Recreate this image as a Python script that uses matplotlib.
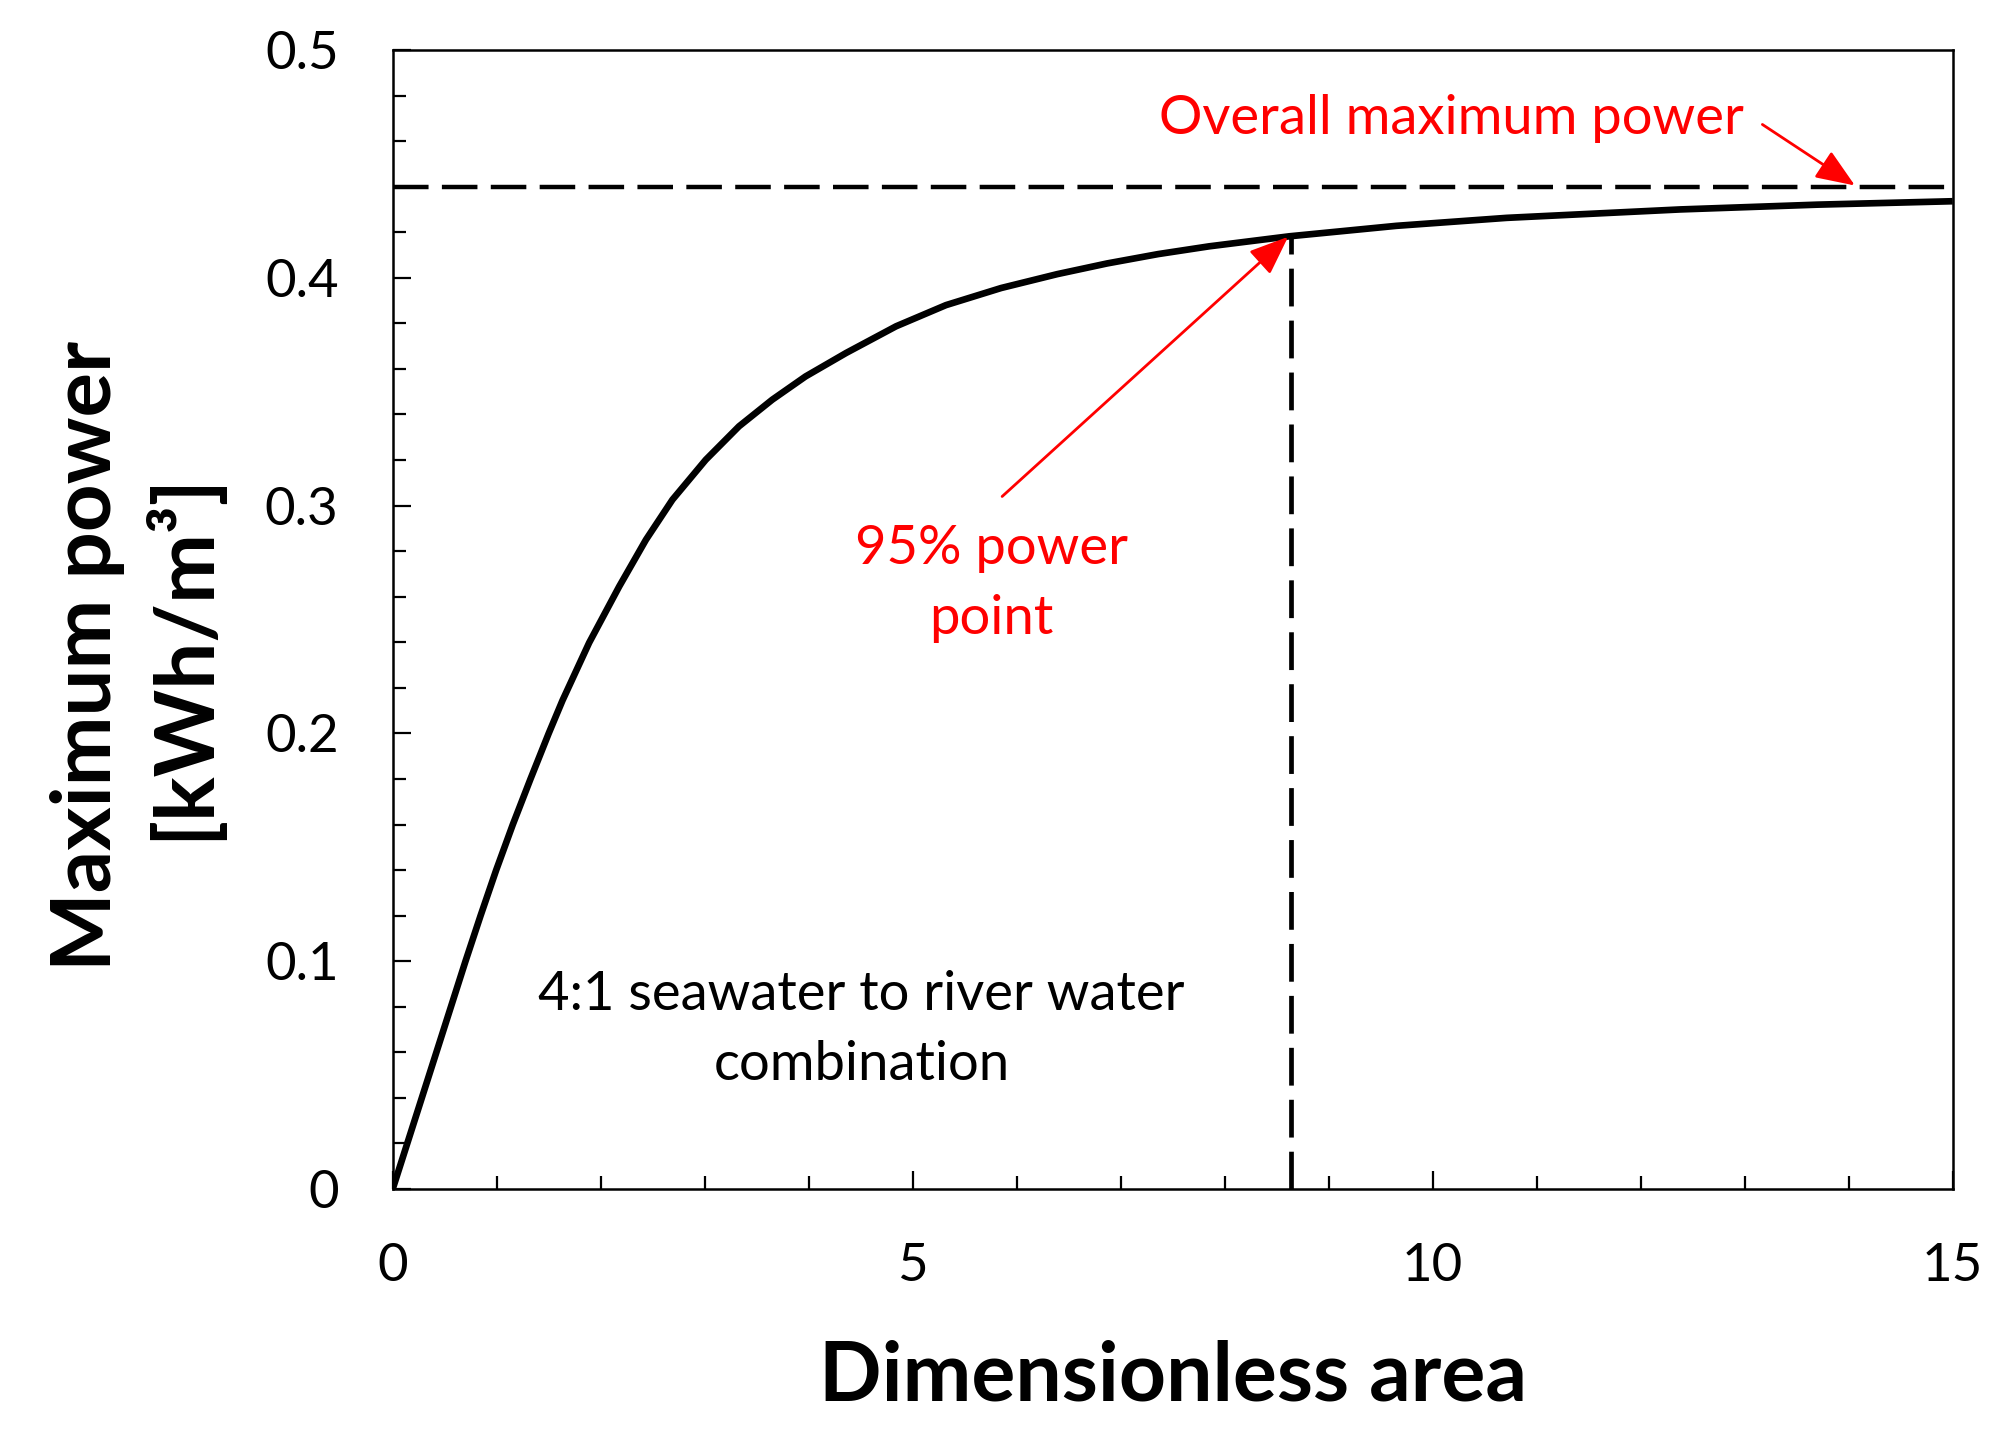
import numpy as np
import matplotlib
matplotlib.use("Agg")
import matplotlib.pyplot as plt
from matplotlib.ticker import MultipleLocator

plt.rcParams['font.family'] = ['Lato', 'DejaVu Sans']

# values
area = [0, 0.14, 0.28, 0.42, 0.56, 0.70, 0.845, 0.995, 1.155, 1.325, 1.50,
        1.633, 1.889, 2.178, 2.435, 2.69, 3.01, 3.33, 3.65, 3.97, 4.36,
        4.84, 5.32, 5.85, 6.39, 6.87, 7.36, 7.85, 8.62, 9.65, 10.71, 12.38,
        13.7, 15.0]
power = [0, 0.020, 0.040, 0.060, 0.080, 0.100, 0.120, 0.140, 0.160, 0.180,
         0.200, 0.2145, 0.2398, 0.2645, 0.285, 0.3026, 0.3201, 0.3348,
         0.3465, 0.3567, 0.367, 0.3787, 0.3880, 0.3955, 0.4016, 0.4063,
         0.4104, 0.4138, 0.4182, 0.4228, 0.4263, 0.4300, 0.4321, 0.4336]

overall_max = 0.44
point_95_area = 8.64
point_95_power = 0.4182

x_major = [0, 5, 10, 15]
x_tick_labels = ['0', '5', '10', '15']
y_major = [0, 0.1, 0.2, 0.3, 0.4, 0.5]
y_tick_labels = ['0', '0.1', '0.2', '0.3', '0.4', '0.5']

red = '#ff0000'

fig = plt.figure(figsize=(10, 7.255), dpi=200)
ax = fig.add_axes([0.19635, 0.18056, 0.78, 0.785])

dash = (0, (8.0, 3.0))
ax.plot([0, 15], [overall_max, overall_max], color='black', lw=1.6,
        linestyle=dash)
ax.plot([point_95_area, point_95_area], [0, point_95_power], color='black',
        lw=1.7, linestyle=dash)
ax.plot(area, power, color='black', lw=2.4, solid_capstyle='butt',
        solid_joinstyle='round', zorder=3)

ax.set_xlim(0, 15)
ax.set_ylim(0, 0.5)
ax.set_xticks(x_major, labels=x_tick_labels)
ax.set_yticks(y_major, labels=y_tick_labels)
ax.xaxis.set_minor_locator(MultipleLocator(1))
ax.yaxis.set_minor_locator(MultipleLocator(0.02))
ax.tick_params(which='both', direction='in', top=False, right=False,
               width=0.8, labelsize=19)
ax.tick_params(which='major', length=6.6)
ax.tick_params(which='minor', length=4.6)
ax.tick_params(axis='x', pad=19.5)
ax.tick_params(axis='y', pad=19.5)
for sp in ax.spines.values():
    sp.set_linewidth(0.9)

ax.set_xlabel('Dimensionless area', fontsize=29.6, fontweight='bold',
              va='baseline')
ax.xaxis.set_label_coords(0.5, -0.1853)
ax.set_ylabel('Maximum power\n[kWh/m³]', fontsize=30, fontweight='bold',
              va='center', linespacing=1.25)
ax.yaxis.set_label_coords(-0.1646, 0.468)

# annotations
head = '-|>,head_length=0.5,head_width=0.2'
ax.text(12.99, 0.4629, 'Overall maximum power', color=red, fontsize=19.6,
        ha='right', va='baseline')
ax.annotate('', xy=(14.06, 0.4405), xytext=(13.17, 0.4673),
            arrowprops=dict(arrowstyle=head, color=red, lw=1.0,
                            mutation_scale=24, shrinkA=0, shrinkB=0))

# va='baseline' on multi-line text anchors the last line
ax.text(5.755, 0.2437, '95% power\npoint', color=red, fontsize=19.6,
        ha='center', va='baseline', linespacing=1.52)
ax.annotate('', xy=(8.61, 0.418), xytext=(5.86, 0.304),
            arrowprops=dict(arrowstyle=head, color=red, lw=1.0,
                            mutation_scale=24, shrinkA=0, shrinkB=0))

ax.text(4.51, 0.048, '4:1 seawater to river water\ncombination',
        color='black', fontsize=19.6, ha='center', va='baseline',
        linespacing=1.52)

fig.savefig('out.png', dpi=200)
